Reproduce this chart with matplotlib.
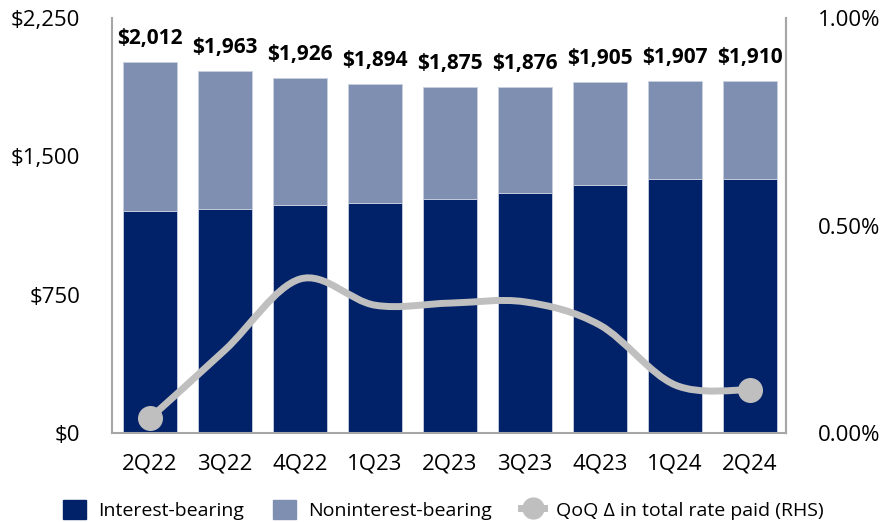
import numpy as np
import matplotlib.pyplot as plt
from matplotlib.path import Path
from matplotlib.patches import PathPatch, Patch
from matplotlib.lines import Line2D

plt.rcParams['font.family'] = ['Open Sans', 'DejaVu Sans']

quarters = ['2Q22', '3Q22', '4Q22', '1Q23', '2Q23', '3Q23', '4Q23', '1Q24', '2Q24']
totals = [2012, 1963, 1926, 1894, 1875, 1876, 1905, 1907, 1910]
interest_bearing = [1203, 1214, 1236, 1247, 1268, 1301, 1344, 1377, 1377]
noninterest_bearing = [t - i for t, i in zip(totals, interest_bearing)]
qoq_rate = [0.036, 0.20, 0.371, 0.308, 0.313, 0.316, 0.26, 0.116, 0.104]  # percent

navy = '#012169'
light = '#7f8fb2'
grey = '#bfbfbf'
spine_c = '#a6a6a6'

fig = plt.figure(figsize=(8.8, 5.22), dpi=100)
ax = fig.add_axes([0.1273, 0.1705, 0.7657, 0.795])
x = np.arange(len(quarters))

ax.bar(x, interest_bearing, width=0.72, color=navy, edgecolor='#c9d0e0', linewidth=0.6, zorder=2)
ax.bar(x, noninterest_bearing, width=0.72, bottom=interest_bearing, color=light,
       edgecolor='#c9d0e0', linewidth=0.6, zorder=2)

for xi, t in zip(x, totals):
    ax.annotate(f'${t:,}', (xi, t), xytext=(0, 17), textcoords='offset points',
                ha='center', va='center', fontsize=15, fontweight='bold', color='black')

ax.set_xlim(-0.507, 8.48)
ax.set_ylim(0, 2250)
ax.set_yticks([0, 750, 1500, 2250])
ax.set_yticklabels(['$0', '$750', '$1,500', '$2,250'])
ax.set_xticks(x)
ax.set_xticklabels(quarters)
ax.tick_params(length=0, labelsize=16, colors='black')
ax.tick_params(axis='y', pad=23)
ax.tick_params(axis='x', pad=15)
ax.spines['top'].set_visible(False)
for s in ['left', 'bottom', 'right']:
    ax.spines[s].set_color(spine_c)
    ax.spines[s].set_linewidth(1.5)

ax2 = ax.twinx()
ax2.set_ylim(0, 1.0)
ax2.set_yticks([0, 0.5, 1.0])
ax2.set_yticklabels(['0.00%', '0.50%', '1.00%'])
ax2.tick_params(length=0, labelsize=16, pad=23)
for s in ['top', 'left', 'bottom']:
    ax2.spines[s].set_visible(False)
ax2.spines['right'].set_color(spine_c)
ax2.spines['right'].set_linewidth(1.5)

# smoothed line (Catmull-Rom as cubic Bezier segments)
pts = np.column_stack([x, qoq_rate]).astype(float)
ext = np.vstack([pts[0], pts, pts[-1]])
verts = [tuple(pts[0])]
codes = [Path.MOVETO]
for i in range(len(pts) - 1):
    p0, p1, p2, p3 = ext[i], ext[i + 1], ext[i + 2], ext[i + 3]
    c1 = p1 + (p2 - p0) / 6
    c2 = p2 - (p3 - p1) / 6
    verts += [tuple(c1), tuple(c2), tuple(p2)]
    codes += [Path.CURVE4] * 3
ax2.add_patch(PathPatch(Path(verts, codes), facecolor='none', edgecolor=grey,
                        linewidth=5, capstyle='round', zorder=3))
ax2.plot([x[0], x[-1]], [qoq_rate[0], qoq_rate[-1]], 'o', color=grey, markersize=17, zorder=4)

handles = [Patch(color=navy), Patch(color=light),
           Line2D([], [], color=grey, lw=5, marker='o', markersize=15)]
labels = ['Interest-bearing', 'Noninterest-bearing', 'QoQ \u0394 in total rate paid (RHS)']
fig.legend(handles, labels, loc='center left', bbox_to_anchor=(63 / 880, 1 - 510 / 522), ncol=3,
           frameon=False, fontsize=14, handlelength=1.2, handleheight=1.15,
           columnspacing=1.5, handletextpad=0.6, borderpad=0, borderaxespad=0)

fig.savefig('out.png', dpi=100)
